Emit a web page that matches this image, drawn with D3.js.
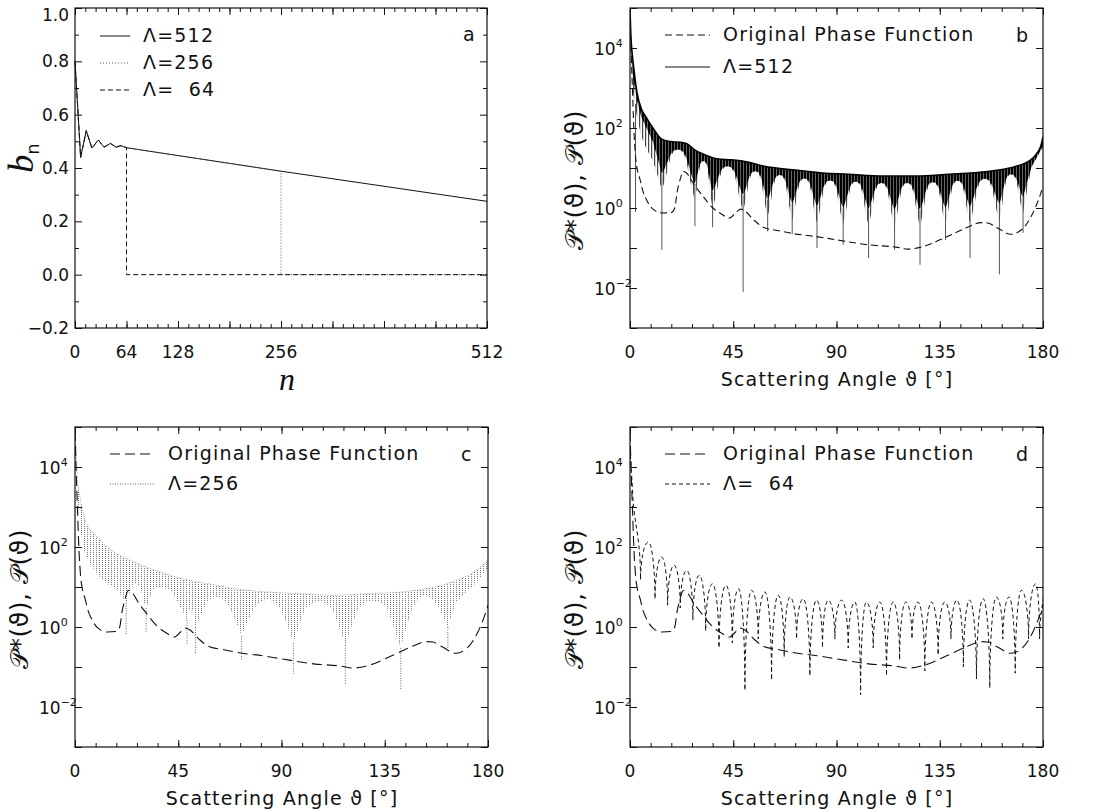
<!DOCTYPE html>
<html>
<head>
<meta charset="utf-8">
<script src="https://cdn.jsdelivr.net/npm/d3@7"></script>
<style>
body { margin: 0; background: #fff; }
text { font-family: "DejaVu Sans", sans-serif; fill: #111; }
.tick-label { font-size: 17px; }
.legend, .title { font-size: 19px; letter-spacing: 1.2px; white-space: pre; }
</style>
</head>
<body>
<svg id="fig" width="1098" height="809"></svg>
<script>
// ---------- data ----------
// panel a: expansion coefficients b_n
const bnN   = [0, 7, 14, 21, 29, 36, 44, 51, 57, 64, 256, 512];
const bnVal = [0.80, 0.44, 0.54, 0.475, 0.505, 0.478, 0.492, 0.478, 0.484, 0.476, 0.388, 0.275];
const cutoffs = [512, 256, 64];
const nLabels = [0, 64, 128, 256, 512];
const bnLabels = [-0.2, 0, 0.2, 0.4, 0.6, 0.8, 1.0];

// panels b-d: original phase function [angle, value]
const original = [[0, 8e4], [0.5, 8000], [1.0, 1200], [1.7, 91], [2.4, 20], [3.2, 9], [4.4, 5.1], [5.5, 2.8],
  [7.2, 1.6], [10, 0.94], [14, 0.75], [18, 0.77], [19.5, 1.0], [20.5, 2.4], [22, 5.5], [23.2, 8.2], [24.5, 7.6],
  [28, 3.8], [32, 1.9], [35.7, 1.06], [40, 0.7], [43.3, 0.56], [46, 0.75], [48.2, 0.94], [50, 0.85], [54, 0.5],
  [58.6, 0.32], [65, 0.27], [71, 0.23], [82, 0.19], [90, 0.16], [104, 0.12], [116, 0.105], [121, 0.094],
  [128, 0.11], [138, 0.19], [146.6, 0.32], [153, 0.43], [156, 0.42], [160, 0.32], [166, 0.22], [171, 0.3],
  [175.6, 0.75], [178.5, 1.9], [180, 3.5]];

// panel b: Lambda = 512 (upper envelope, lower edge of black band, lower edge of grey hatch, single spikes)
const upperB = [[0, 1e5], [0.4, 2e4], [0.9, 8000], [1.7, 3000], [3, 800], [5, 300], [7.2, 180], [10, 100],
  [14, 52], [19, 45], [22, 44], [25, 40], [28, 29], [33, 21], [38, 17], [44, 16], [49, 15], [58.6, 11], [71, 9],
  [84, 7.5], [95, 7], [110, 6.3], [125, 6.3], [139, 7], [150, 7.6], [160, 8.8], [168, 11], [174, 15],
  [177, 22], [179, 35], [180, 60]];
const darkB = [[0, 5e4], [1, 2500], [3, 500], [5, 180], [7.2, 100], [10, 45], [13.9, 7], [21, 29], [28.3, 4],
  [32, 15], [36, 2.6], [42.5, 11], [49.3, 2.1], [54.6, 8.3], [60, 1.6], [65.3, 6.7], [70.7, 1.3], [76, 5.5],
  [81.5, 1.1], [87.2, 4.9], [92.9, 1.0], [98.4, 4.5], [104, 0.95], [109.6, 4.2], [115.3, 0.9], [120.8, 4.2],
  [126.4, 0.9], [132, 4.4], [137.5, 1.0], [142.8, 4.8], [148.2, 1.07], [154.6, 5.4], [161, 1.25], [166, 7],
  [171.3, 1.8], [175, 10.7], [180, 35]];
const grayB = [[0, 3e4], [1, 1000], [3, 200], [5, 60], [7.2, 30], [10, 15], [13.9, 2.8], [21, 29], [28.3, 1.6],
  [32, 15], [36, 1.0], [42.5, 11], [49.3, 0.83], [54.6, 8.3], [60, 0.6], [65.3, 6.7], [70.7, 0.5], [76, 5.5],
  [81.5, 0.43], [87.2, 4.9], [92.9, 0.4], [98.4, 4.5], [104, 0.37], [109.6, 4.2], [115.3, 0.35], [120.8, 4.2],
  [126.4, 0.35], [132, 4.4], [137.5, 0.39], [142.8, 4.8], [148.2, 0.42], [154.6, 5.4], [161, 0.49], [166, 7],
  [171.3, 0.7], [175, 10.7], [180, 35]];
const spikesB = [[2.4, 400, 0.8], [13.9, 7, 0.09], [28.3, 4, 0.35], [36, 2.6, 0.33], [49.3, 2.1, 0.008],
  [60, 1.6, 0.26], [70.7, 1.3, 0.22], [81.5, 1.1, 0.1], [92.9, 1.0, 0.12], [104, 0.95, 0.056], [115.3, 0.9, 0.09],
  [126.4, 0.9, 0.038], [137.5, 1.0, 0.16], [148.2, 1.07, 0.056], [161, 1.25, 0.022], [171.3, 1.8, 0.24]];

// panel c: Lambda = 256
const upperC = [[0, 1e5], [0.6, 2e4], [1.2, 4000], [2.2, 1800], [3.5, 700], [5.1, 380], [8, 220], [10.9, 150],
  [14, 100], [18.2, 68], [25.5, 43], [32, 30], [40, 21], [47, 16], [54.7, 13], [62, 11], [69, 9.1], [76, 8.2],
  [83.8, 7.5], [98.4, 6.8], [113, 6.2], [127.5, 6.8], [142, 7.5], [150, 8.5], [156.7, 10], [163, 12.5],
  [168, 16], [174, 24], [177, 33], [180, 47]];
const lowerC = [[0, 5e4], [1, 2000], [2.2, 300], [4, 80], [7, 35], [10, 20], [14, 12], [18, 9], [22.3, 4],
  [26.5, 12], [31, 3], [36, 10], [42, 8], [48.8, 1.5], [50.6, 3], [52.5, 1.0], [58, 4.5], [62.5, 5.5], [67, 3.5],
  [72.6, 0.6], [78, 3], [84, 4.8], [89.5, 3], [95.2, 0.4], [100.5, 3], [106.5, 4.3], [112, 3], [117.8, 0.35],
  [123.5, 3], [130, 4.5], [136, 3], [142, 0.3], [147, 3], [152.5, 6], [158, 3.5], [162.5, 1], [166, 4],
  [170, 7], [175, 13], [180, 30]];
const spikesC = [[22.3, 4, 0.62], [31, 3, 0.75], [48.8, 1.5, 0.35], [52.5, 1, 0.21], [72.6, 0.6, 0.15],
  [95.2, 0.4, 0.068], [117.8, 0.35, 0.035], [142, 0.3, 0.026], [162.5, 1, 0.29]];

// panel d: Lambda = 64 (alternating peaks and troughs)
const lambda64 = [[0, 3e4], [1.45, 1200], [4.6, 15], [8, 133], [10.9, 5], [13.8, 56], [16.4, 3.5], [19.2, 35],
  [21.9, 3], [24.7, 26], [27.4, 1.5], [30.2, 19.5], [33, 0.8], [35.9, 12], [38.8, 0.3], [41.8, 11], [44.6, 0.4],
  [47.3, 9], [50.1, 0.026], [53, 8.3], [55.9, 0.5], [58.8, 7.5], [61.7, 0.047], [64.6, 6.2], [67.2, 0.18],
  [69.7, 5.6], [72.6, 0.5], [75.5, 5.1], [78.4, 0.06], [81.3, 4.7], [83.9, 0.3], [86.4, 4.7], [89.3, 0.5],
  [92.2, 4.7], [95.1, 0.3], [98, 4.2], [100.5, 0.02], [103, 4.2], [106, 0.3], [108.9, 4.2], [111.8, 0.06],
  [114.7, 4.2], [117.5, 0.15], [120.2, 4.2], [122.9, 0.5], [125.5, 4.2], [128.5, 0.08], [131.4, 4.2],
  [134.3, 0.2], [137.2, 4.2], [139.9, 0.5], [142.5, 4.7], [145.3, 0.1], [148, 4.7], [151, 0.05], [153.9, 5.1],
  [156.8, 0.03], [159.7, 5.6], [162.5, 0.5], [165.2, 5.6], [167.9, 0.07], [170.6, 8.3], [173.7, 0.5],
  [176.8, 12], [178.5, 0.5], [180, 5]];

const angleLabels = [0, 45, 90, 135, 180];
const logLabels = [-2, 0, 2, 4];

// ---------- helpers ----------
const svg = d3.select('#fig');
const defs = svg.append('defs');

function pattern(id, w, h, rw, rh, color) {
    defs.append('pattern').attr('id', id)
        .attr('patternUnits', 'userSpaceOnUse')
        .attr('width', w).attr('height', h)
        .append('rect').attr('width', rw).attr('height', rh).attr('fill', color);
}
pattern('hatchDark', 3, 4, 2.6, 4, '#000');
pattern('hatchGray', 3, 4, 1.2, 4, '#444');
pattern('hatchDot', 3, 2, 1, 1, '#777');

// curve for oscillations: flat at peaks, steep (k = 0 vertical) at troughs
class ArchCurve {
    constructor(ctx, k) { this._ctx = ctx; this._k = k; }
    areaStart() { this._line = 0; }
    areaEnd() { this._line = NaN; }
    lineStart() { this._pts = []; }
    point(x, y) { this._pts.push([+x, +y]); }
    lineEnd() {
        const p = this._pts, c = this._ctx, n = p.length, k = this._k;
        if (!n) return;
        if (this._line) c.lineTo(p[0][0], p[0][1]); else c.moveTo(p[0][0], p[0][1]);
        const kind = p.map((q, i) => {
            const a = p[i - 1], b = p[i + 1];
            if (!a || !b) return 0;
            if (q[1] > a[1] && q[1] > b[1]) return 1;
            if (q[1] < a[1] && q[1] < b[1]) return -1;
            return 0;
        });
        for (let i = 1; i < n; i++) {
            const [x0, y0] = p[i - 1], [x1, y1] = p[i];
            const dx = x1 - x0, dy = y1 - y0;
            let c1, c2;
            if (kind[i - 1] === 1) c1 = [x0 + dx * k, y0 + dy * 0.5];
            else if (kind[i - 1] === -1) c1 = [x0 + dx * 0.55, y0];
            else c1 = [x0 + dx / 3, y0 + dy / 3];
            if (kind[i] === 1) c2 = [x1 - dx * k, y1 - dy * 0.5];
            else if (kind[i] === -1) c2 = [x1 - dx * 0.55, y1];
            else c2 = [x1 - dx / 3, y1 - dy / 3];
            c.bezierCurveTo(c1[0], c1[1], c2[0], c2[1], x1, y1);
        }
        if (this._line || (this._line !== 0 && n === 1)) c.closePath();
        this._line = 1 - this._line;
    }
}
const curveArch = k => ctx => new ArchCurve(ctx, k);

function tickRow(g, axis, values, size, tr) {
    g.append('g').attr('transform', tr)
        .call(axis.tickValues(values).tickSize(-size).tickSizeOuter(0).tickFormat(''))
        .call(s => s.select('.domain').remove())
        .selectAll('line').attr('stroke', '#111');
}

function frame(g, x, y, o) {
    const [x0, x1] = x.range();
    const [y1, y0] = y.range();
    tickRow(g, d3.axisBottom(x), o.xMajor, 7, `translate(0,${y1})`);
    tickRow(g, d3.axisTop(x), o.xMajor, 7, `translate(0,${y0})`);
    tickRow(g, d3.axisBottom(x), o.xMinor, 4, `translate(0,${y1})`);
    tickRow(g, d3.axisTop(x), o.xMinor, 4, `translate(0,${y0})`);
    tickRow(g, d3.axisLeft(y), o.yMajor, 7, `translate(${x0},0)`);
    tickRow(g, d3.axisRight(y), o.yMajor, 7, `translate(${x1},0)`);
    if (o.yMinor) {
        tickRow(g, d3.axisLeft(y), o.yMinor, 4, `translate(${x0},0)`);
        tickRow(g, d3.axisRight(y), o.yMinor, 4, `translate(${x1},0)`);
    }
    g.append('rect').attr('x', x0).attr('y', y0)
        .attr('width', x1 - x0).attr('height', y1 - y0)
        .attr('fill', 'none').attr('stroke', '#111').attr('stroke-width', 1.2);
    g.selectAll(null).data(o.xLabels).join('text')
        .attr('class', 'tick-label')
        .attr('x', d => x(d)).attr('y', y1 + 30)
        .attr('text-anchor', 'middle')
        .text(d => d);
}

function legend(g, x, y, rows) {
    rows.forEach((r, i) => {
        const yy = y + i * r.step;
        g.append('line').attr('x1', x).attr('x2', x + r.len)
            .attr('y1', yy - 6).attr('y2', yy - 6)
            .attr('stroke', r.color).attr('stroke-width', 1)
            .attr('stroke-dasharray', r.dash);
        g.append('text').attr('class', 'legend')
            .attr('x', x + r.len + 13).attr('y', yy).text(r.label);
    });
}

// ---------- panel a ----------
(function () {
    const g = svg.append('g');
    const x = d3.scaleLinear().domain([0, 512]).range([75, 487]);
    const y = d3.scaleLinear().domain([-0.2, 1.0]).range([328, 8]);

    const series = cutoffs.map(L => {
        const pts = bnN.map((n, i) => [n, bnVal[i]]).filter(d => d[0] <= L);
        if (L < 512) pts.push([L, 0], [512, 0]);
        return pts;
    });
    const styles = [
        { color: '#111', dash: null },
        { color: '#555', dash: '1,2' },
        { color: '#111', dash: '5,3' }
    ];
    const line = d3.line().x(d => x(d[0])).y(d => y(d[1]));
    series.forEach((s, i) => {
        g.append('path').attr('d', line(s)).attr('fill', 'none')
            .attr('stroke', styles[i].color).attr('stroke-width', 1)
            .attr('stroke-dasharray', styles[i].dash);
    });

    frame(g, x, y, {
        xMajor: d3.range(0, 513, 64), xMinor: d3.range(0, 513, 12.8),
        yMajor: bnLabels, yMinor: d3.range(-0.1, 1.0, 0.2), xLabels: nLabels
    });
    g.selectAll('.ylab').data(bnLabels).join('text')
        .attr('class', 'tick-label')
        .attr('x', 69).attr('y', d => Math.max(y(d) + 6, 21))
        .attr('text-anchor', 'end')
        .text(d => d3.format('.1f')(d).replace('-', '\u2212'));

    g.append('text').attr('x', 287).attr('y', 390).attr('text-anchor', 'middle')
        .style('font-family', '"Liberation Serif", serif').style('font-style', 'italic')
        .style('font-size', '32px').text('n');
    const yl = g.append('text').attr('transform', 'translate(33,158) rotate(-90)')
        .attr('text-anchor', 'middle');
    yl.append('tspan').style('font-family', '"Liberation Serif", serif').style('font-style', 'italic')
        .style('font-size', '36px').text('b');
    yl.append('tspan').attr('dy', 6).style('font-size', '18px').text('n');

    g.append('text').attr('class', 'legend').attr('x', 463).attr('y', 41).text('a');
    legend(g, 100, 42, [
        { label: '\u039b=512', color: '#111', dash: null, len: 30, step: 27 },
        { label: '\u039b=256', color: '#555', dash: '1,2', len: 30, step: 27 },
        { label: '\u039b=  64', color: '#111', dash: '5,3', len: 30, step: 27 }
    ]);
})();

// ---------- panels b, c, d ----------
class PhasePanel {
    constructor(config) {
        this.config = config;
        this.init();
        this.render();
    }

    init() {
        let self = this;
        const c = self.config;
        self.g = svg.append('g');
        self.x = d3.scaleLinear().domain([0, 180]).range([c.left, c.left + 413]);
        self.y = d3.scaleLog().domain([1e-3, 1e5]).range([c.top + 320, c.top]);
        self.clipId = 'clip' + c.letter;
        defs.append('clipPath').attr('id', self.clipId)
            .append('rect').attr('x', c.left).attr('y', c.top).attr('width', 413).attr('height', 320);
        self.plot = self.g.append('g').attr('clip-path', `url(#${self.clipId})`);
        self.mono = d3.line().x(d => self.x(d[0])).y(d => self.y(d[1])).curve(d3.curveMonotoneX);
        self.scallop = d3.line().x(d => self.x(d[0])).y(d => self.y(d[1])).curve(curveArch(0.45));
        self.arch = d3.line().x(d => self.x(d[0])).y(d => self.y(d[1])).curve(curveArch(0));
    }

    band(upper, lower, fill) {
        let self = this;
        const top = self.mono(upper);
        const bottom = self.scallop(lower.slice().reverse()).replace(/^M/, 'L');
        self.plot.append('path').attr('d', top + bottom + 'Z').attr('fill', fill);
    }

    spikes(data, color, dash) {
        let self = this;
        self.plot.selectAll(null).data(data).join('line')
            .attr('x1', d => self.x(d[0])).attr('x2', d => self.x(d[0]))
            .attr('y1', d => self.y(d[1])).attr('y2', d => self.y(d[2]))
            .attr('stroke', color).attr('stroke-width', 1)
            .attr('stroke-dasharray', dash);
    }

    render() {
        let self = this;
        const c = self.config;
        c.draw(self);

        self.plot.append('path').attr('d', self.mono(original)).attr('fill', 'none')
            .attr('stroke', '#111').attr('stroke-width', 1.1)
            .attr('stroke-dasharray', c.origDash);

        frame(self.g, self.x, self.y, {
            xMajor: angleLabels, xMinor: d3.range(0, 181, 9),
            yMajor: d3.range(-3, 6).map(e => Math.pow(10, e)), xLabels: angleLabels
        });
        const yl = self.g.selectAll(null).data(logLabels).join('text')
            .attr('class', 'tick-label')
            .attr('x', c.left - 36).attr('y', d => self.y(Math.pow(10, d)) + 7)
            .attr('text-anchor', 'start');
        yl.append('tspan').text('10');
        yl.append('tspan').attr('dy', -8).style('font-size', '11px')
            .text(d => String(d).replace('-', '\u2212'));

        self.g.append('text').attr('class', 'title')
            .attr('x', c.left + 207).attr('y', c.top + 378).attr('text-anchor', 'middle')
            .text('Scattering Angle \u03d1 [\u00b0]');
        self.g.append('text').attr('class', 'title')
            .attr('transform', `translate(${c.left - 47},${c.top + 172}) rotate(-90)`)
            .attr('text-anchor', 'middle').style('font-size', '25px').style('letter-spacing', '0.5px')
            .text('\ud835\udcab*(\u03d1), \ud835\udcab(\u03d1)');
        self.g.append('text').attr('class', 'legend')
            .attr('x', c.left + 386).attr('y', c.top + 34).text(c.letter);
        legend(self.g, c.left + 35, c.top + 33, c.legend);
    }
}

new PhasePanel({
    letter: 'b', left: 630, top: 8, origDash: '7,4',
    legend: [
        { label: 'Original Phase Function', color: '#111', dash: '7,4', len: 45, step: 32 },
        { label: '\u039b=512', color: '#111', dash: null, len: 45, step: 32 }
    ],
    draw: p => {
        p.band(upperB, grayB, 'url(#hatchGray)');
        p.band(upperB, darkB, 'url(#hatchDark)');
        p.spikes(spikesB, '#555', null);
        p.plot.append('path').attr('d', p.mono(upperB)).attr('fill', 'none')
            .attr('stroke', '#000').attr('stroke-width', 1.5);
    }
});

new PhasePanel({
    letter: 'c', left: 75, top: 427, origDash: '10,5',
    legend: [
        { label: 'Original Phase Function', color: '#111', dash: '10,5', len: 45, step: 30 },
        { label: '\u039b=256', color: '#666', dash: '1,1.5', len: 45, step: 30 }
    ],
    draw: p => {
        p.band(upperC, lowerC, 'url(#hatchDot)');
        p.spikes(spikesC, '#666', '1,1.5');
        p.plot.append('path').attr('d', p.mono(upperC)).attr('fill', 'none')
            .attr('stroke', '#888').attr('stroke-width', 0.8).attr('stroke-dasharray', '1,1.5');
    }
});

new PhasePanel({
    letter: 'd', left: 630, top: 427, origDash: '10,5',
    legend: [
        { label: 'Original Phase Function', color: '#111', dash: '10,5', len: 45, step: 30 },
        { label: '\u039b=  64', color: '#111', dash: '4,3', len: 45, step: 30 }
    ],
    draw: p => {
        p.plot.append('path').attr('d', p.arch(lambda64)).attr('fill', 'none')
            .attr('stroke', '#111').attr('stroke-width', 1).attr('stroke-dasharray', '4,3');
    }
});
</script>
</body>
</html>
